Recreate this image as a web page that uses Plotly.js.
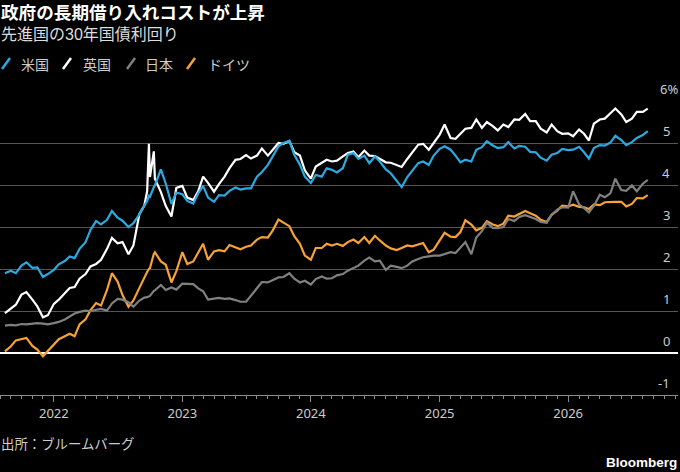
<!DOCTYPE html>
<html>
<head>
<meta charset="utf-8">
<script src="https://cdn.plot.ly/plotly-3.0.1.min.js"></script>
<style>
  html, body { margin: 0; padding: 0; background: #000; }
  #chart { width: 680px; height: 472px; }
</style>
</head>
<body>
<div id="chart"></div>
<script>
// half-monthly readings (plus a few extra days around the Sept/Oct 2022 gilt spike)
const dates = [
  '2021-08-15','2021-09-01','2021-09-15','2021-10-01','2021-10-15','2021-11-01','2021-11-15','2021-12-01','2021-12-15',
  '2022-01-01','2022-01-15','2022-02-01','2022-02-15','2022-03-01','2022-03-15','2022-04-01','2022-04-15',
  '2022-05-01','2022-05-15','2022-06-01','2022-06-15','2022-07-01','2022-07-15','2022-08-01','2022-08-15',
  '2022-09-01','2022-09-15','2022-09-23','2022-09-28','2022-10-01','2022-10-12','2022-10-15','2022-11-01','2022-11-15',
  '2022-12-01','2022-12-15',
  '2023-01-01','2023-01-15','2023-02-01','2023-02-15','2023-03-01','2023-03-15','2023-04-01','2023-04-15',
  '2023-05-01','2023-05-15','2023-06-01','2023-06-15','2023-07-01','2023-07-15','2023-08-01','2023-08-15',
  '2023-09-01','2023-09-15','2023-10-01','2023-10-15','2023-11-01','2023-11-15','2023-12-01','2023-12-15',
  '2024-01-01','2024-01-15','2024-02-01','2024-02-15','2024-03-01','2024-03-15','2024-04-01','2024-04-15',
  '2024-05-01','2024-05-15','2024-06-01','2024-06-15','2024-07-01','2024-07-15','2024-08-01','2024-08-15',
  '2024-09-01','2024-09-15','2024-10-01','2024-10-15','2024-11-01','2024-11-15','2024-12-01','2024-12-15',
  '2025-01-01','2025-01-15','2025-02-01','2025-02-15','2025-03-01','2025-03-15','2025-04-01','2025-04-15',
  '2025-05-01','2025-05-15','2025-06-01','2025-06-15','2025-07-01','2025-07-15','2025-08-01','2025-08-15',
  '2025-09-01','2025-09-15','2025-10-01','2025-10-15','2025-11-01','2025-11-15','2025-12-01','2025-12-15',
  '2026-01-01','2026-01-15','2026-02-01','2026-02-15','2026-03-01','2026-03-15','2026-04-01','2026-04-15',
  '2026-05-01','2026-05-15','2026-06-01','2026-06-15','2026-07-01','2026-07-15','2026-08-01','2026-08-15'
];

const usYield = [
  1.90, 1.96, 1.90, 2.08, 2.16, 2.03, 2.04, 1.81, 1.88,
  1.98, 2.11, 2.19, 2.30, 2.26, 2.48, 2.64, 2.93,
  3.14, 3.06, 3.17, 3.38, 3.22, 3.15, 3.00, 3.09,
  3.30, 3.51, 3.62, 3.74, 3.72, 3.95, 3.99, 4.37, 4.03,
  3.55, 3.82,
  3.78, 3.62, 3.56, 3.80, 3.98, 3.70, 3.60, 3.76,
  3.75, 3.86, 3.94, 3.89, 3.92, 3.92, 4.20, 4.31,
  4.48, 4.70, 4.92, 5.00, 5.05, 4.72, 4.48, 4.20,
  4.05, 4.24, 4.20, 4.40, 4.36, 4.30, 4.40, 4.72,
  4.76, 4.62, 4.70, 4.52, 4.68, 4.56, 4.37, 4.28,
  4.10, 3.95, 4.19, 4.33, 4.52, 4.56, 4.48, 4.70,
  4.86, 4.92, 4.84, 4.70, 4.54, 4.60, 4.56, 4.84,
  4.90, 5.04, 4.94, 4.88, 4.90, 5.02, 4.87, 4.93,
  4.91, 4.79, 4.78, 4.65, 4.58, 4.72, 4.76, 4.86,
  4.83, 4.84, 4.91, 4.78, 4.63, 4.88, 4.95, 4.94,
  5.01, 5.17, 5.07, 4.95, 5.02, 5.12, 5.19, 5.28
];

const ukYield = [
  0.95, 1.05, 1.15, 1.39, 1.45, 1.27, 1.11, 0.85, 0.90,
  1.17, 1.27, 1.42, 1.55, 1.57, 1.77, 1.88, 2.06,
  2.12, 2.22, 2.48, 2.74, 2.61, 2.64, 2.35, 2.56,
  3.31, 3.51, 3.85, 4.98, 4.19, 4.80, 4.15, 3.83, 3.50,
  3.25, 3.93,
  3.98, 3.70, 3.64, 3.85, 4.20, 4.05, 3.84, 4.02,
  4.20, 4.40, 4.60, 4.62, 4.71, 4.63, 4.70, 4.87,
  4.70, 4.84, 5.00, 4.98, 5.05, 4.78, 4.70, 4.35,
  4.15, 4.44, 4.52, 4.60, 4.56, 4.58, 4.68, 4.76,
  4.80, 4.66, 4.82, 4.70, 4.69, 4.62, 4.54, 4.53,
  4.47, 4.43, 4.62, 4.78, 4.96, 4.98, 4.84, 5.00,
  5.20, 5.44, 5.12, 5.10, 5.22, 5.34, 5.36, 5.56,
  5.36, 5.50, 5.40, 5.30, 5.44, 5.38, 5.56, 5.55,
  5.69, 5.52, 5.52, 5.34, 5.25, 5.44, 5.28, 5.22,
  5.23, 5.16, 5.32, 5.22, 5.06, 5.46, 5.56, 5.58,
  5.71, 5.82, 5.68, 5.50, 5.58, 5.74, 5.74, 5.82
];

const jpYield = [
  0.65, 0.67, 0.66, 0.69, 0.68, 0.70, 0.71, 0.70, 0.68,
  0.71, 0.74, 0.80, 0.88, 0.94, 0.98, 1.01, 1.00,
  1.03, 1.05, 1.01, 1.18, 1.29, 1.27, 1.21, 1.10,
  1.25, 1.32, 1.33, 1.35, 1.36, 1.48, 1.49, 1.62, 1.50,
  1.56, 1.51,
  1.65, 1.65, 1.64, 1.54, 1.47, 1.27, 1.30, 1.31,
  1.29, 1.30, 1.26, 1.22, 1.22, 1.37, 1.55, 1.69,
  1.68, 1.73, 1.80, 1.81, 1.90, 1.77, 1.68, 1.72,
  1.63, 1.76, 1.82, 1.77, 1.78, 1.85, 1.88, 1.96,
  2.02, 2.08, 2.20, 2.27, 2.18, 2.20, 1.98, 2.08,
  2.05, 2.02, 2.08, 2.18, 2.24, 2.28, 2.30, 2.32,
  2.32, 2.36, 2.40, 2.38, 2.52, 2.64, 2.35, 2.75,
  2.90, 3.10, 2.98, 2.97, 3.00, 3.19, 3.14, 3.24,
  3.28, 3.23, 3.19, 3.12, 3.10, 3.29, 3.41, 3.47,
  3.46, 3.85, 3.54, 3.45, 3.35, 3.50, 3.77, 3.71,
  3.80, 4.15, 3.88, 3.86, 3.99, 3.85, 4.03, 4.12
];

const deYield = [
  0.04, 0.16, 0.30, 0.34, 0.36, 0.17, 0.08, -0.08, 0.05,
  0.22, 0.33, 0.40, 0.46, 0.40, 0.68, 0.80, 1.02,
  1.19, 1.13, 1.50, 1.90, 1.70, 1.38, 1.10, 1.25,
  1.55, 1.82, 1.93, 2.00, 2.02, 2.36, 2.40, 2.18, 2.10,
  1.68, 1.95,
  2.40, 2.12, 2.18, 2.38, 2.60, 2.22, 2.42, 2.45,
  2.42, 2.57, 2.52, 2.47, 2.53, 2.56, 2.70, 2.76,
  2.75, 2.92, 3.18, 3.10, 3.02, 2.78, 2.60, 2.32,
  2.22, 2.50, 2.50, 2.60, 2.56, 2.60, 2.55, 2.64,
  2.70, 2.62, 2.76, 2.62, 2.79, 2.68, 2.56, 2.49,
  2.45, 2.50, 2.56, 2.54, 2.58, 2.62, 2.40, 2.46,
  2.68, 2.86, 2.77, 2.76, 2.88, 3.16, 3.06, 2.92,
  2.98, 3.14, 3.06, 3.02, 3.08, 3.27, 3.25, 3.31,
  3.38, 3.33, 3.27, 3.17, 3.12, 3.29, 3.39, 3.51,
  3.49, 3.53, 3.48, 3.47, 3.43, 3.54, 3.52, 3.59,
  3.60, 3.60, 3.60, 3.49, 3.55, 3.69, 3.68, 3.76
];

const seriesNames  = ['米国', '英国', '日本', 'ドイツ'];
const seriesValues = [usYield, ukYield, jpYield, deYield];
const seriesColors = ['#2ba9e1', '#ffffff', '#808080', '#f6a234'];

const yTickVals = [-1, 0, 1, 2, 3, 4, 5, 6];
const yTickText = ['-1', '0', '1', '2', '3', '4', '5', '6%'];

const JP = '"Noto Sans CJK JP", "Noto Sans", sans-serif';
// tighter line box for the two heading lines; kanji/kana fall back to Noto CJK JP
const HEAD = '"Liberation Sans", "Noto Sans CJK JP", sans-serif';
const LAT = '"Noto Sans", "Open Sans", sans-serif';

// pixel helpers: plot area runs from y=101 (top) to y=395 (bottom), x 0..678
const py = (y) => (395 - y) / 294;
const px = (x) => x / 678;

// draw Germany first so the US line ends up on top
const traces = [3, 2, 1, 0].map(k => ({
  x: dates, y: seriesValues[k],
  type: 'scatter', mode: 'lines',
  name: seriesNames[k],
  line: { color: seriesColors[k], width: 2.2 },
  hoverinfo: 'skip', showlegend: false
}));

// legend: coloured slashes + labels
const legendX = [2, 63, 127, 187];
const legendTextX = [20, 82, 144, 207];
const shapes = legendX.map((x, k) => ({
  type: 'line', xref: 'paper', yref: 'paper',
  x0: px(x), x1: px(x + 8), y0: py(69), y1: py(58),
  line: { color: seriesColors[k], width: 2.5 }
}));

const annotations = [
  { text: '<b>政府の長期借り入れコストが上昇</b>', x: 0, y: py(2.3), xanchor: 'left', yanchor: 'top',
    font: { family: HEAD, size: 17.6, color: '#ffffff' } },
  { text: '先進国の30年国債利回り', x: 0, y: py(24.6), xanchor: 'left', yanchor: 'top',
    font: { family: HEAD, size: 16, color: '#dddddd' } },
  { text: '出所：ブルームバーグ', x: 0, y: py(443), xanchor: 'left', yanchor: 'middle',
    font: { family: JP, size: 13.4, color: '#cccccc' } },
  { text: '<b>Bloomberg</b>', x: 1, y: py(462), xanchor: 'right', yanchor: 'middle',
    font: { family: '"Liberation Sans", Arial, sans-serif', size: 13.5, color: '#ffffff' } }
];
seriesNames.forEach((n, k) => annotations.push({
  text: n, x: px(legendTextX[k]), y: py(64), xanchor: 'left', yanchor: 'middle',
  font: { family: JP, size: 14, color: '#cccccc' }
}));
// y labels sit just above their gridline, at the right edge
yTickVals.forEach((v, k) => annotations.push({
  text: yTickText[k], xref: 'paper', yref: 'y', x: px(671), y: v,
  xanchor: 'right', yanchor: 'bottom', yshift: 2,
  xshift: yTickText[k].includes('%') ? 8 : 0,
  font: { family: LAT, size: 13, color: '#cccccc' }
}));
annotations.forEach(a => {
  a.showarrow = false; a.borderpad = 0;
  a.xref = a.xref || 'paper'; a.yref = a.yref || 'paper';
});

const layout = {
  width: 680, height: 472,
  paper_bgcolor: '#000', plot_bgcolor: '#000',
  margin: { l: 0, r: 2, t: 101, b: 77 },
  showlegend: false,
  xaxis: {
    type: 'date', range: ['2021-08-01', '2026-11-09'],
    tick0: '2022-01-01', dtick: 'M12', tickformat: '%Y',
    ticks: 'outside', ticklen: 6, tickcolor: '#8a8a8a', tickwidth: 1,
    showline: true, linecolor: '#8a8a8a', linewidth: 1,
    showgrid: false, zeroline: false,
    tickfont: { family: LAT, size: 13, color: '#cccccc' },
    minor: { dtick: 'M1', ticks: 'outside', ticklen: 3, tickcolor: '#8a8a8a', showgrid: false },
    fixedrange: true
  },
  yaxis: {
    range: [-1, 6], tickvals: yTickVals, showticklabels: false,
    showgrid: true, gridcolor: '#555555', gridwidth: 1,
    zeroline: true, zerolinecolor: '#ffffff', zerolinewidth: 1.5,
    fixedrange: true
  },
  shapes: shapes,
  annotations: annotations
};

Plotly.newPlot('chart', traces, layout, { displayModeBar: false, staticPlot: true });
</script>
</body>
</html>
